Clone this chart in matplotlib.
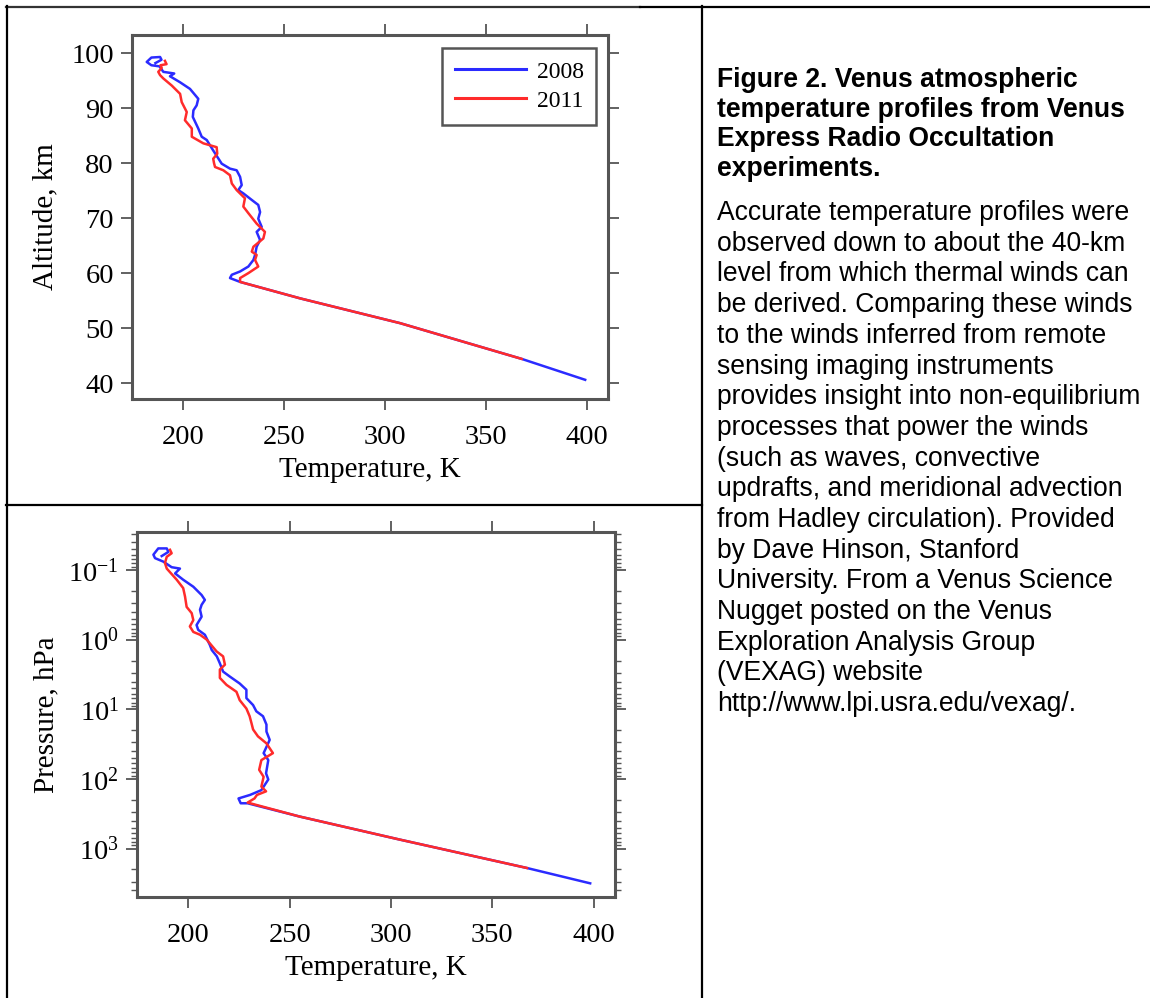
import matplotlib
matplotlib.use("Agg")
import matplotlib.pyplot as plt
from matplotlib.lines import Line2D
from matplotlib.ticker import LogLocator, NullFormatter, LogFormatterSciNotation

# ---------------- data ----------------
years = ["2008", "2011"]

# Altitude profiles (top panel)
temp_alt_2008 = [186.5, 189.5, 188.8, 184.5, 182.2, 184.5, 188.5, 190.4, 195.8, 193.7,
                 198.7, 203.6, 207.7, 206.9, 205.3, 205.0, 207.7, 209.4, 211.9, 215.1,
                 219.3, 223.4, 226.7, 228.4, 229.2, 227.5, 230.0, 234.2, 237.4, 238.3,
                 237.4, 239.1, 236.6, 238.3, 236.6, 235.8, 235.0, 232.5, 228.4, 224.3,
                 223.4, 228.4, 258.2, 307.6, 367.8, 399.2]
alt_2008 = [98.2, 98.8, 99.3, 99.2, 98.4, 97.8, 97.6, 96.6, 96.3, 95.8,
            94.7, 93.5, 91.7, 90.5, 89.6, 88.4, 86.3, 84.8, 84.2, 82.3,
            79.9, 79.0, 78.7, 77.5, 76.0, 75.1, 74.5, 73.3, 72.4, 71.1,
            69.9, 68.4, 67.5, 66.0, 64.8, 63.3, 62.4, 61.2, 60.3, 59.7,
            59.1, 58.4, 55.4, 50.9, 44.4, 40.6]

temp_alt_2011 = [191.2, 192.0, 189.0, 189.6, 187.9, 188.8, 190.4, 194.6, 198.7, 199.5,
                 202.0, 201.1, 204.5, 204.5, 210.2, 216.8, 217.1, 215.1, 215.5, 216.0,
                 220.1, 223.4, 224.3, 226.7, 230.8, 230.0, 232.5, 236.6, 240.7, 239.9,
                 235.0, 234.2, 236.6, 235.8, 237.4, 232.5, 228.4, 228.4, 258.2, 307.6,
                 367.8]
alt_2011 = [98.6, 98.0, 97.8, 97.3, 96.6, 96.0, 95.4, 94.1, 92.6, 91.1,
            89.3, 87.8, 86.3, 84.8, 83.6, 82.9, 81.7, 80.8, 80.0, 79.3,
            78.7, 77.8, 76.3, 75.1, 73.6, 72.1, 70.9, 69.0, 67.5, 66.3,
            64.8, 63.9, 63.3, 62.4, 61.2, 60.0, 59.1, 58.4, 55.4, 50.9,
            44.4]

# Pressure profiles (bottom panel), pressure in hPa
temp_p_2008 = [186.8, 190.1, 189.3, 185.1, 182.7, 183.5, 187.6, 191.7, 195.8, 193.4,
               197.4, 202.4, 206.5, 208.1, 206.5, 205.7, 206.5, 204.0, 204.8, 208.1,
               210.6, 211.5, 214.0, 215.5, 217.1, 220.4, 225.3, 228.6, 228.6, 231.9,
               233.5, 236.8, 238.5, 238.5, 240.1, 237.1, 239.4, 238.3, 239.4, 236.0,
               230.4, 224.7, 225.8, 229.2, 254.8, 304.0, 367.1, 398.3]
p_2008 = [0.0631, 0.0550, 0.0490, 0.0490, 0.0603, 0.0676, 0.0759, 0.0912, 0.0955, 0.112,
          0.138, 0.174, 0.229, 0.269, 0.316, 0.372, 0.468, 0.617, 0.724, 0.851,
          1.20, 1.41, 1.74, 2.19, 2.88, 3.39, 4.27, 5.25, 6.92, 8.71,
          10.7, 12.6, 16.6, 20.9, 27.5, 42.7, 53.7, 83.2, 102.0, 145.0,
          170.0, 191.0, 224.0, 224.0, 347.0, 741.0, 1905.0, 3162.0]

temp_p_2011 = [190.9, 191.7, 189.3, 188.4, 189.3, 194.2, 197.4, 198.3, 199.1, 201.6,
               202.4, 200.7, 202.4, 205.7, 209.0, 213.9, 217.1, 218.0, 215.5, 215.5,
               218.8, 223.7, 225.3, 228.6, 230.2, 231.1, 231.9, 234.3, 238.5, 241.7,
               236.0, 234.9, 237.1, 236.0, 238.3, 233.8, 232.6, 229.2, 254.8, 304.0,
               367.1]
p_2011 = [0.0513, 0.0575, 0.0646, 0.0794, 0.0955, 0.138, 0.182, 0.240, 0.339, 0.417,
          0.525, 0.646, 0.776, 0.851, 1.00, 1.48, 1.74, 2.29, 2.69, 3.55,
          4.47, 5.62, 7.41, 9.77, 12.6, 15.8, 19.5, 24.5, 30.9, 42.7,
          53.7, 74.1, 93.3, 129.0, 151.0, 170.0, 191.0, 219.0, 347.0, 741.0,
          1905.0]

x_ticks = [200, 250, 300, 350, 400]
alt_ticks = [40, 50, 60, 70, 80, 90, 100]

title_lines = ["Figure 2. Venus atmospheric",
               "temperature profiles from Venus",
               "Express Radio Occultation",
               "experiments."]
body_lines = ["Accurate temperature profiles were",
              "observed down to about the 40-km",
              "level from which thermal winds can",
              "be derived. Comparing these winds",
              "to the winds inferred from remote",
              "sensing imaging instruments",
              "provides insight into non-equilibrium",
              "processes that power the winds",
              "(such as waves, convective",
              "updrafts, and meridional advection",
              "from Hadley circulation). Provided",
              "by Dave Hinson, Stanford",
              "University. From a Venus Science",
              "Nugget posted on the Venus",
              "Exploration Analysis Group",
              "(VEXAG) website",
              "http://www.lpi.usra.edu/vexag/."]

# ---------------- style ----------------
W, H = 1150, 998
plt.rcParams['font.family'] = ['Liberation Serif', 'DejaVu Serif']
plt.rcParams['mathtext.fontset'] = 'custom'
plt.rcParams['mathtext.rm'] = 'Liberation Serif'
plt.rcParams['mathtext.it'] = 'Liberation Serif:italic'

BLUE = '#2b2bff'
RED = '#ff2b2b'
SPINE = '#555555'
TICKFS = 20.5
LABFS = 21

fig = plt.figure(figsize=(W / 100, H / 100), dpi=100)


def px_axes(l, t, r, b):
    return fig.add_axes([l / W, 1 - b / H, (r - l) / W, (b - t) / H])


def style_axes(ax):
    for s in ax.spines.values():
        s.set_color(SPINE)
        s.set_linewidth(2.2)
    ax.tick_params(which='major', direction='out', length=8, width=1.3,
                   color=SPINE, labelsize=TICKFS, pad=5,
                   top=True, right=True, labeltop=False, labelright=False)
    ax.tick_params(axis='x', which='major', pad=11)
    ax.tick_params(which='minor', direction='out', length=4, width=1.0,
                   color=SPINE, top=False, right=True, left=True)


# ---- top panel ----
ax1 = px_axes(132, 35, 608.4, 398.5)
ax1.plot(temp_alt_2008, alt_2008, color=BLUE, lw=1.8, label=years[0])
ax1.plot(temp_alt_2011, alt_2011, color=RED, lw=1.8, label=years[1])
ax1.set_xlim(174.9, 410.7)
ax1.set_ylim(37.2, 103.3)
ax1.set_xticks(x_ticks)
ax1.set_yticks(alt_ticks)
style_axes(ax1)
ax1.set_xlabel("Temperature, K", fontsize=LABFS)
ax1.set_ylabel("Altitude, km", fontsize=LABFS)
ax1.xaxis.set_label_coords(0.5, -0.162)
ax1.yaxis.set_label_coords(-0.155, 0.5)
leg = ax1.legend(loc='upper right', bbox_to_anchor=(0.975, 0.964), borderaxespad=0,
                 fontsize=17, handlelength=3.0, handletextpad=0.45,
                 labelspacing=0.32, borderpad=0.55, fancybox=False, framealpha=1)
leg.get_frame().set_edgecolor(SPINE)
leg.get_frame().set_linewidth(1.8)
for ln in leg.get_lines():
    ln.set_linewidth(2.2)

# ---- bottom panel ----
ax2 = px_axes(137, 531.7, 615.3, 896.7)
ax2.plot(temp_p_2008, p_2008, color=BLUE, lw=1.8)
ax2.plot(temp_p_2011, p_2011, color=RED, lw=1.8)
ax2.set_yscale('log')
ax2.set_xlim(174.6, 410.7)
ax2.set_ylim(4920, 0.0282)
ax2.set_xticks(x_ticks)
ax2.yaxis.set_major_locator(LogLocator(base=10, numticks=10))
ax2.yaxis.set_major_formatter(LogFormatterSciNotation())
ax2.yaxis.set_minor_locator(LogLocator(base=10, subs=range(2, 10), numticks=20))
ax2.yaxis.set_minor_formatter(NullFormatter())
style_axes(ax2)
ax2.set_xlabel("Temperature, K", fontsize=LABFS)
ax2.set_ylabel("Pressure, hPa", fontsize=LABFS)
ax2.xaxis.set_label_coords(0.5, -0.16)
ax2.yaxis.set_label_coords(-0.163, 0.5)

# ---- table borders ----
def hline(y, x0, x1, lw=1.6, color='black'):
    fig.add_artist(Line2D([x0 / W, x1 / W], [1 - y / H, 1 - y / H],
                          color=color, lw=lw, transform=fig.transFigure))


def vline(x, y0, y1, lw=1.6):
    fig.add_artist(Line2D([x / W, x / W], [1 - y0 / H, 1 - y1 / H],
                          color='black', lw=lw, transform=fig.transFigure))


hline(7, 6, 640, color='#333333')
hline(7, 640, W)
hline(505, 6, 702)
vline(6.5, 6, H)
vline(702, 6, H)

# ---- caption text ----
TX = 717
for i, s in enumerate(title_lines):
    fig.text(TX / W, 1 - (87.3 + 29.6 * i) / H, s, family='Liberation Sans',
             fontweight='bold', fontsize=19.1, ha='left', va='baseline')
for i, s in enumerate(body_lines):
    fig.text(TX / W, 1 - (220 + 30.7 * i) / H, s, family='Liberation Sans',
             fontsize=19.1, ha='left', va='baseline')

fig.savefig("out.png", dpi=100)
